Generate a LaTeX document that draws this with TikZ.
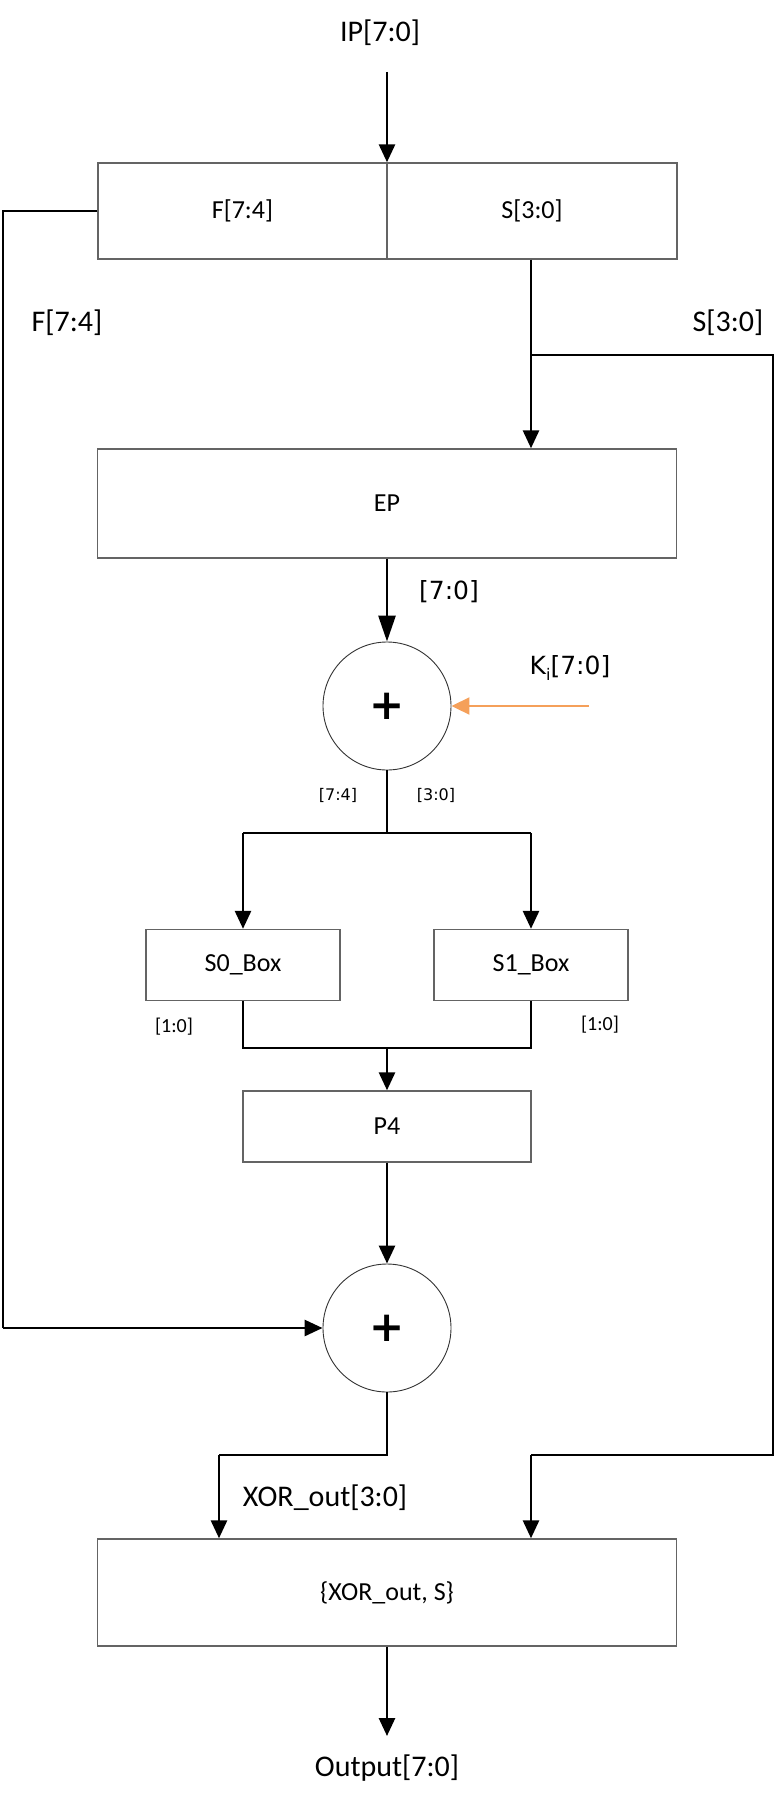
\documentclass[tikz,border=0pt]{standalone}
\usepackage{fontspec}
\setmainfont{Carlito}
\newfontfamily\dvs{DejaVu Sans}
\usetikzlibrary{arrows.meta}
\definecolor{boxgray}{RGB}{100,100,100}
\definecolor{keyorange}{RGB}{245,160,90}
\begin{document}
\begin{tikzpicture}[x=1pt,y=-1pt,
  blk/.style={draw=boxgray,line width=1.4pt,fill=white,inner sep=0pt,font=\fontsize{26}{30}\selectfont},
  xorc/.style={draw=black!80,line width=0.9pt,circle,minimum size=128pt,inner sep=0pt,font=\dvs\bfseries\fontsize{42}{46}\selectfont},
  conn/.style={line width=2.8pt,line join=miter},
  arr/.style={conn,-{Triangle[length=18pt,width=16pt]}},
  lbl/.style={inner sep=0pt,font=\fontsize{30}{34}\selectfont},
  slbl/.style={inner sep=0pt,font=\fontsize{20}{24}\selectfont},
  dlbl/.style={inner sep=0pt,font=\dvs\fontsize{25}{30}\selectfont},
  dslbl/.style={inner sep=0pt,font=\dvs\fontsize{16}{20}\selectfont}]
\useasboundingbox (0,0) rectangle (779,1806);

% labels
\node[lbl] (ip) at (380,33) {IP[7:0]};
\coordinate (ipstart) at (387,72);
\node[lbl] (flbl) at (67,323) {F[7:4]};
\node[lbl] (slbl) at (728,323) {S[3:0]};
\node[dlbl] (k70) at (449,592) {[7:0]};
\node[dlbl] (klbl) at (570,668) {K\raisebox{-0.25em}{\fontsize{16}{18}\selectfont i}[7:0]};
\node[dslbl] (l74) at (338,795) {[7:4]};
\node[dslbl] (l30) at (436,795) {[3:0]};
\node[slbl] (l10a) at (174,1027) {[1:0]};
\node[slbl] (l10b) at (600,1025) {[1:0]};
\node[lbl] (xlbl) at (325,1498) {XOR\_out[3:0]};
\node[lbl] (out) at (387,1768) {Output[7:0]};

% blocks
\node[blk,minimum width=289pt,minimum height=96pt] (fbox) at (242.5,211) {F[7:4]};
\node[blk,minimum width=290pt,minimum height=96pt] (sbox) at (532,211) {S[3:0]};
\node[blk,minimum width=579pt,minimum height=109pt] (ep) at (387,503.5) {EP};
\node[xorc] (x1) at (387,706) {+};
\node[blk,minimum width=194pt,minimum height=71pt] (s0) at (243,965) {S0\_Box};
\node[blk,minimum width=194pt,minimum height=71pt] (s1) at (531,965) {S1\_Box};
\node[blk,minimum width=288pt,minimum height=71pt] (p4) at (387,1126.5) {P4};
\node[xorc] (x2) at (387,1328) {+};
\node[blk,minimum width=579pt,minimum height=107pt] (fin) at (387,1592.5) {\{XOR\_out, S\}};

% bend points
\coordinate (fl1) at (3,211);
\coordinate (fl2) at (3,1328);
\coordinate (sb) at (531,355);
\coordinate (sr1) at (773,355);
\coordinate (sr2) at (773,1455);
\coordinate (sr3) at (531,1455);
\coordinate (sp) at (387,833);
\coordinate (spl) at (243,833);
\coordinate (spr) at (531,833);
\coordinate (mg) at (387,1048);
\coordinate (mgl) at (243,1048);
\coordinate (mgr) at (531,1048);
\coordinate (xb) at (387,1455);
\coordinate (xl) at (219,1455);
\coordinate (kstart) at (589,706);
\coordinate (outend) at (387,1736);

% connectors
\draw[arr] (ipstart) -- (ipstart |- fbox.north);
\draw[conn] (fbox.west) -- (fl1) -- (fl2);
\draw[arr] (fl2) -- (x2.west);
\draw[arr] (sbox.south -| sb) -- (sb) -- (sb |- ep.north);
\draw[conn] (sb) -- (sr1) -- (sr2) -- (sr3);
\draw[arr] (sr3) -- (sr3 |- fin.north);
\draw[conn,-{Triangle[length=26pt,width=17pt]}] (ep.south) -- (x1.north);
\draw[line width=2pt,draw=keyorange,-{Triangle[length=18pt,width=17pt]}] (kstart) -- (x1.east);
\draw[conn] (x1.south) -- (sp);
\draw[conn] (spl) -- (spr);
\draw[arr] (spl) -- (s0.north);
\draw[arr] (spr) -- (s1.north);
\draw[conn] (s0.south) -- (mgl) -- (mgr) -- (s1.south);
\draw[arr] (mg) -- (p4.north);
\draw[arr] (p4.south) -- (x2.north);
\draw[conn] (x2.south) -- (xb) -- (xl);
\draw[arr] (xl) -- (xl |- fin.north);
\draw[arr] (fin.south) -- (outend);

% divider line in top box
\draw[draw=boxgray,line width=1.4pt] (fbox.north east) -- (fbox.south east);
\end{tikzpicture}
\end{document}
